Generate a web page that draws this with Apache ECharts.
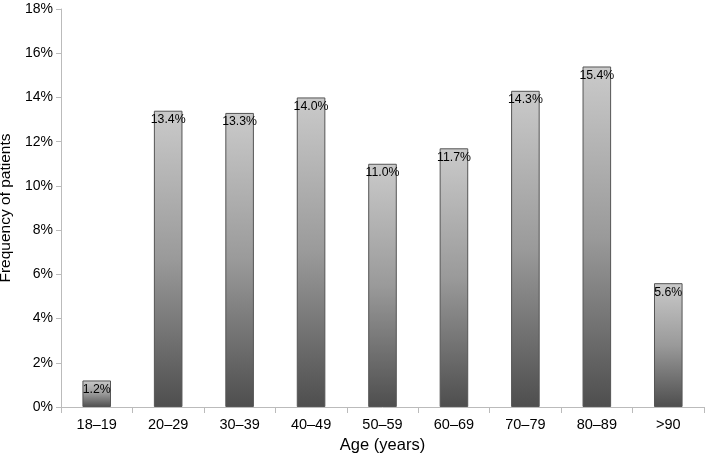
<!DOCTYPE html>
<html><head><meta charset="utf-8">
<script src="https://cdn.jsdelivr.net/npm/echarts@6/dist/echarts.min.js"></script>
<style>html,body{margin:0;padding:0;background:#fff}#c{width:705px;height:454px}</style>
</head><body><div id="c"></div>
<script>
const categories = ['18–19','20–29','30–39','40–49','50–59','60–69','70–79','80–89','>90'];
const values = [1.2, 13.4, 13.3, 14.0, 11.0, 11.7, 14.3, 15.4, 5.6];
const chart = echarts.init(document.getElementById('c'), null, {renderer:'canvas'});
const font = '"Liberation Sans", Arial, sans-serif';
chart.setOption({
  animation:false,
  grid:{left:61,right:1,top:9,bottom:47,containLabel:false,outerBoundsMode:'none'},
  xAxis:{type:'category',data:categories,
    name:'Age (years)',nameLocation:'middle',nameGap:29,
    nameTextStyle:{fontFamily:font,fontSize:16.5,color:'#000'},
    axisLine:{lineStyle:{color:'#bbb'}},
    axisTick:{show:true,alignWithLabel:false,length:6,lineStyle:{color:'#bbb'}},
    axisLabel:{fontFamily:font,fontSize:14.5,color:'#000',margin:10}},
  yAxis:{type:'value',min:0,max:18,interval:2,
    name:'Frequency of patients',nameLocation:'middle',nameGap:42,
    nameTextStyle:{fontFamily:font,fontSize:15.5,color:'#000'},
    axisLine:{show:true,lineStyle:{color:'#bbb'}},
    axisTick:{show:true,length:5,lineStyle:{color:'#bbb'}},
    splitLine:{show:false},
    axisLabel:{fontFamily:font,fontSize:14,color:'#000',margin:8,formatter:v=>v+'%'}},
  series:[{type:'bar',data:values,barWidth:'40%',
    itemStyle:{borderColor:'#555',borderWidth:1,
      color:new echarts.graphic.LinearGradient(0,0,0,1,[{offset:0,color:'#cacaca'},{offset:0.5,color:'#9a9a9a'},{offset:1,color:'#4e4e4e'}])},
    label:{show:true,position:'insideTop',distance:3,fontFamily:font,fontSize:12.3,color:'#000',formatter:p=>p.value.toFixed(1)+'%'}}]
});
</script></body></html>
